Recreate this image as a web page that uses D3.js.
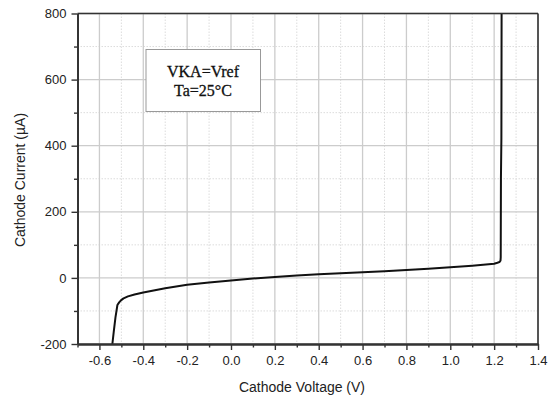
<!DOCTYPE html>
<html>
<head>
<meta charset="utf-8">
<script src="https://cdn.jsdelivr.net/npm/d3@7"></script>
<style>
  html, body { margin: 0; padding: 0; background: #fff; }
  svg { display: block; }
</style>
</head>
<body>
<svg id="chart" width="552" height="398"></svg>
<script>
// ---- data ----
const voltage = [-0.541, -0.535, -0.527, -0.518, -0.510, -0.502, -0.490, -0.470, -0.440, -0.400, -0.300, -0.200, -0.100, 0.000, 0.100, 0.200, 0.300, 0.400, 0.500, 0.600, 0.700, 0.800, 0.900, 1.000, 1.100, 1.200, 1.215, 1.224, 1.229, 1.230, 1.231, 1.233, 1.234];
const current = [-200, -165, -120, -82, -74, -68, -62, -56, -50, -44, -31, -21, -14, -8, -2, 3, 7, 11, 14, 17, 20, 24, 28, 32, 37, 43, 46, 48, 52, 62, 300, 420, 800];
const xTicks = [-0.6, -0.4, -0.2, 0.0, 0.2, 0.4, 0.6, 0.8, 1.0, 1.2, 1.4];
const xMinor = [-0.7, -0.5, -0.3, -0.1, 0.1, 0.3, 0.5, 0.7, 0.9, 1.1, 1.3];
const yTicks = [-200, 0, 200, 400, 600, 800];
const yMinor = [-100, 100, 300, 500, 700];
const xTitle = "Cathode Voltage (V)";
const yTitle = "Cathode Current (\u00b5A)";
const noteLines = ["VKA=Vref", "Ta=25\u00b0C"];

// ---- layout ----
const svg = d3.select("#chart");
const L = 77.5, R = 538, T = 13.5, B = 344;
const x = d3.scaleLinear().domain([-0.7, 1.4]).range([L, R]);
const y = d3.scaleLinear().domain([-200, 800]).range([B, T]);

// grid
const grid = svg.append("g");
grid.selectAll(".gxm").data(xMinor).join("line")
  .attr("x1", d => x(d)).attr("x2", d => x(d)).attr("y1", T).attr("y2", B)
  .attr("stroke", "#dcdcdc").attr("stroke-width", 1).attr("stroke-dasharray", "1.5,1.5");
grid.selectAll(".gym").data(yMinor).join("line")
  .attr("y1", d => y(d)).attr("y2", d => y(d)).attr("x1", L).attr("x2", R)
  .attr("stroke", "#dcdcdc").attr("stroke-width", 1).attr("stroke-dasharray", "1.5,1.5");
grid.selectAll(".gx").data(xTicks).join("line")
  .attr("x1", d => x(d)).attr("x2", d => x(d)).attr("y1", T).attr("y2", B)
  .attr("stroke", "#cccccc").attr("stroke-width", 1.3);
grid.selectAll(".gy").data(yTicks).join("line")
  .attr("y1", d => y(d)).attr("y2", d => y(d)).attr("x1", L).attr("x2", R)
  .attr("stroke", "#cccccc").attr("stroke-width", 1.3);

// curve
const line = d3.line().x((d, i) => x(voltage[i])).y((d, i) => y(current[i])).curve(d3.curveLinear);
svg.append("path").datum(current)
  .attr("d", line).attr("fill", "none").attr("stroke", "#111").attr("stroke-width", 2)
  .attr("stroke-linejoin", "round");

// frame (top & right)
svg.append("line").attr("x1", L).attr("x2", R).attr("y1", T).attr("y2", T)
  .attr("stroke", "#333").attr("stroke-width", 1.6);
svg.append("line").attr("x1", R).attr("x2", R).attr("y1", T).attr("y2", B)
  .attr("stroke", "#333").attr("stroke-width", 1.6);

// axes
const fmtX = d => d.toFixed(1);
const fmtY = d => String(d);
const xAxis = svg.append("g").attr("transform", `translate(0,${B})`)
  .call(d3.axisBottom(x).tickValues(xTicks).tickFormat(fmtX).tickSizeInner(6).tickSizeOuter(0).tickPadding(6));
const xAxisMinor = svg.append("g").attr("transform", `translate(0,${B})`)
  .call(d3.axisBottom(x).tickValues(xMinor).tickFormat("").tickSizeInner(3.5).tickSizeOuter(0));
const yAxis = svg.append("g").attr("transform", `translate(${L},0)`)
  .call(d3.axisLeft(y).tickValues(yTicks).tickFormat(fmtY).tickSizeInner(6).tickSizeOuter(0).tickPadding(5));
const yAxisMinor = svg.append("g").attr("transform", `translate(${L},0)`)
  .call(d3.axisLeft(y).tickValues(yMinor).tickFormat("").tickSizeInner(3.5).tickSizeOuter(0));

[xAxis, xAxisMinor, yAxis, yAxisMinor].forEach(g => {
  g.select(".domain").attr("stroke", "#333").attr("stroke-width", 1.8);
  g.selectAll(".tick line").attr("stroke", "#333").attr("stroke-width", 1.4);
  g.selectAll(".tick text").attr("fill", "#222")
    .style("font-family", "'Liberation Sans', Arial, sans-serif").style("font-size", "13px");
});

// titles
svg.append("text").attr("x", 302).attr("y", 392).attr("text-anchor", "middle")
  .style("font-family", "'Liberation Sans', Arial, sans-serif").style("font-size", "14px").attr("fill", "#222")
  .text(xTitle);
svg.append("text").attr("transform", "translate(25,180) rotate(-90)").attr("text-anchor", "middle")
  .style("font-family", "'Liberation Sans', Arial, sans-serif").style("font-size", "14px").attr("fill", "#222")
  .text(yTitle);

// note box
svg.append("rect").attr("x", 146).attr("y", 49.5).attr("width", 114.5).attr("height", 62)
  .attr("fill", "#fff").attr("stroke", "#999").attr("stroke-width", 1);
svg.selectAll(".note").data(noteLines).join("text")
  .attr("x", 203).attr("y", (d, i) => 77 + i * 18.5).attr("text-anchor", "middle")
  .style("font-family", "'Liberation Serif', 'Times New Roman', serif").style("font-size", "16px")
  .style("stroke", "#111").style("stroke-width", "0.3px")
  .attr("fill", "#111").text(d => d);
</script>
</body>
</html>
